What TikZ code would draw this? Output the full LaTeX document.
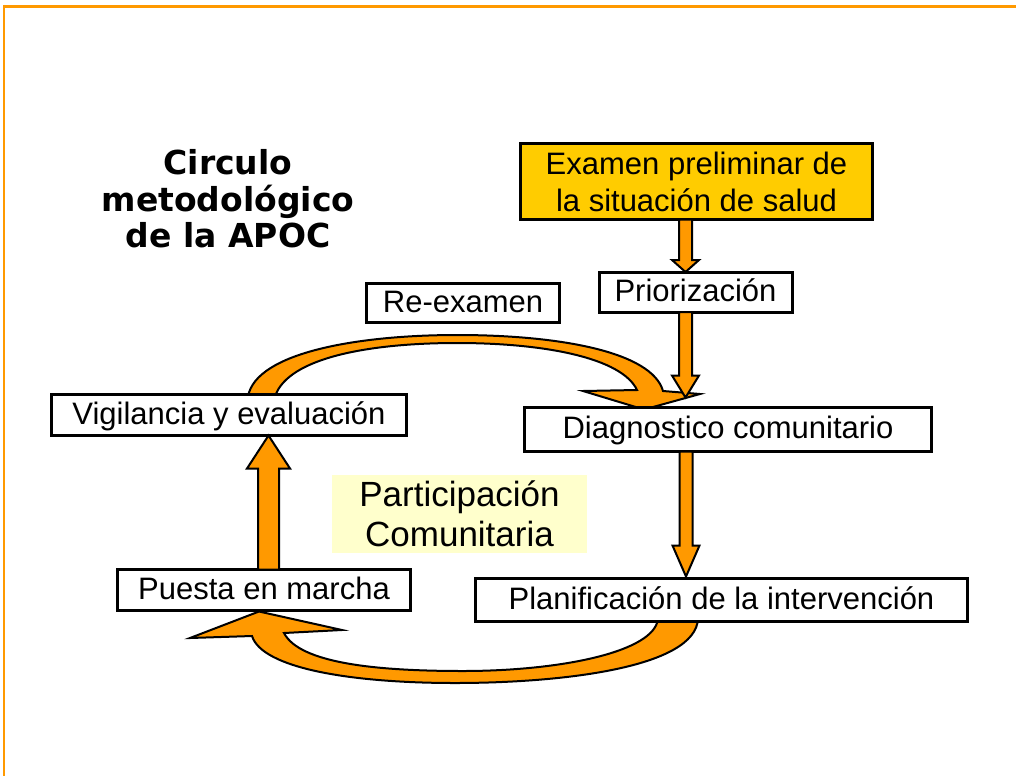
\documentclass[tikz,border=0pt]{standalone}
\usepackage{fontspec}
\setmainfont{Liberation Sans}
\newfontfamily\titlefont{DejaVu Sans}
\usetikzlibrary{calc}
\definecolor{orng}{HTML}{FF9900}
\definecolor{gold}{HTML}{FFCC00}
\definecolor{paleyel}{HTML}{FFFFCC}
\pgfdeclarelayer{bg}
\pgfsetlayers{bg,main}
\tikzset{
  box/.style={draw=black, line width=3pt, fill=white, inner sep=0pt, outer sep=0pt,
    font=\fontsize{31}{37}\selectfont, align=center},
  oneline/.style={text height=24pt, text depth=6pt},
  fat/.style={fill=orng, draw=black, line width=2pt, line join=miter},
  titletext/.style={font=\titlefont\bfseries\fontsize{33}{36.5}\selectfont, align=center},
}
\newcommand\fatarrow[5]{%
  \filldraw[fat] let \p1=#1, \p2=#2, \n1={ifthenelse(\y2<\y1,1,-1)} in
    (\x2-#3pt,\y1) -- (\x2-#3pt,\y2+\n1*#5pt) -- (\x2-#4pt,\y2+\n1*#5pt) -- (\x2,\y2)
    -- (\x2+#4pt,\y2+\n1*#5pt) -- (\x2+#3pt,\y2+\n1*#5pt) -- (\x2+#3pt,\y1) -- cycle;}

\begin{document}
\begin{tikzpicture}[x=1pt,y=-1pt]
\useasboundingbox (0,0) rectangle (1016,776);
% frame
\draw[orng, line width=3pt] (3,6.5) -- (1016,6.5);
\draw[orng, line width=2pt] (3.5,5) -- (3.5,776);

% title
\node[titletext] (title) at (228,199) {Circulo\\metodológico\\de la APOC};

% boxes
\node[box, fill=gold, minimum width=352pt, minimum height=76pt] (ex) at (696.5,181.5)
  {Examen preliminar de\\la situación de salud};
\node[box, oneline, minimum width=193pt, minimum height=40pt] (pr) at (695.5,292) {Priorización};
\node[box, oneline, minimum width=193pt, minimum height=39pt] (re) at (463,303) {Re-examen};
\node[box, oneline, minimum width=355pt, minimum height=41pt] (vig) at (229,415) {Vigilancia y evaluación};
\node[box, oneline, minimum width=407pt, minimum height=44pt] (dg) at (728,429.5) {Diagnostico comunitario};
\node[box, oneline, minimum width=293pt, minimum height=41pt] (pm) at (264,590) {Puesta en marcha};
\node[box, oneline, minimum width=492pt, minimum height=43pt] (pl) at (721.5,600) {Planificación de la intervención};
\node[box, draw=none, fill=paleyel, minimum width=255pt, minimum height=78pt,
  font=\fontsize{35}{40}\selectfont] (pc) at (459.5,514) {Participación\\Comunitaria};

% curved arrows (behind boxes)
\begin{pgfonlayer}{bg}
\filldraw[fat]
  ($(vig.north)+(19,2)$) .. controls (256,352) and (360,335) .. (457,335)
  .. controls (560,335) and (652,352) .. (663,391)
  -- (700,394) -- ($(dg.north)+(-84,2)$) -- (583,391) -- (637,390)
  .. controls (622,358) and (545,343) .. (457,343)
  .. controls (372,343) and (288,357) .. ($(vig.north)+(46,2)$) -- cycle;
\filldraw[fat]
  (190,638) -- ($(pm.south)+(-5,1)$) -- (342,630) -- (284,633)
  .. controls (300,664) and (380,671) .. (463,671)
  .. controls (560,671) and (655,652) .. ($(pl.south)+(-63.5,-3)$)
  -- ($(pl.south)+(-23.5,-3)$)
  .. controls (696,668) and (560,683) .. (455,683)
  .. controls (350,683) and (262,668) .. (252,636) -- cycle;
\end{pgfonlayer}

% straight arrows
\fatarrow{($(ex.south)+(-11,0)$)}{($(pr.north)+(-10,0)$)}{6.5}{13.5}{12}
\fatarrow{($(pr.south)+(-10,0)$)}{($(dg.north)+(-42.5,-10)$)}{6.5}{13.5}{22}
\fatarrow{($(dg.south)+(-42,0)$)}{($(pl.north)+(-35.5,-2)$)}{6.5}{13.5}{31}
\fatarrow{($(pm.north)+(4.5,0)$)}{($(vig.south)+(39.5,0)$)}{10.5}{21.5}{33}
\end{tikzpicture}
\end{document}
